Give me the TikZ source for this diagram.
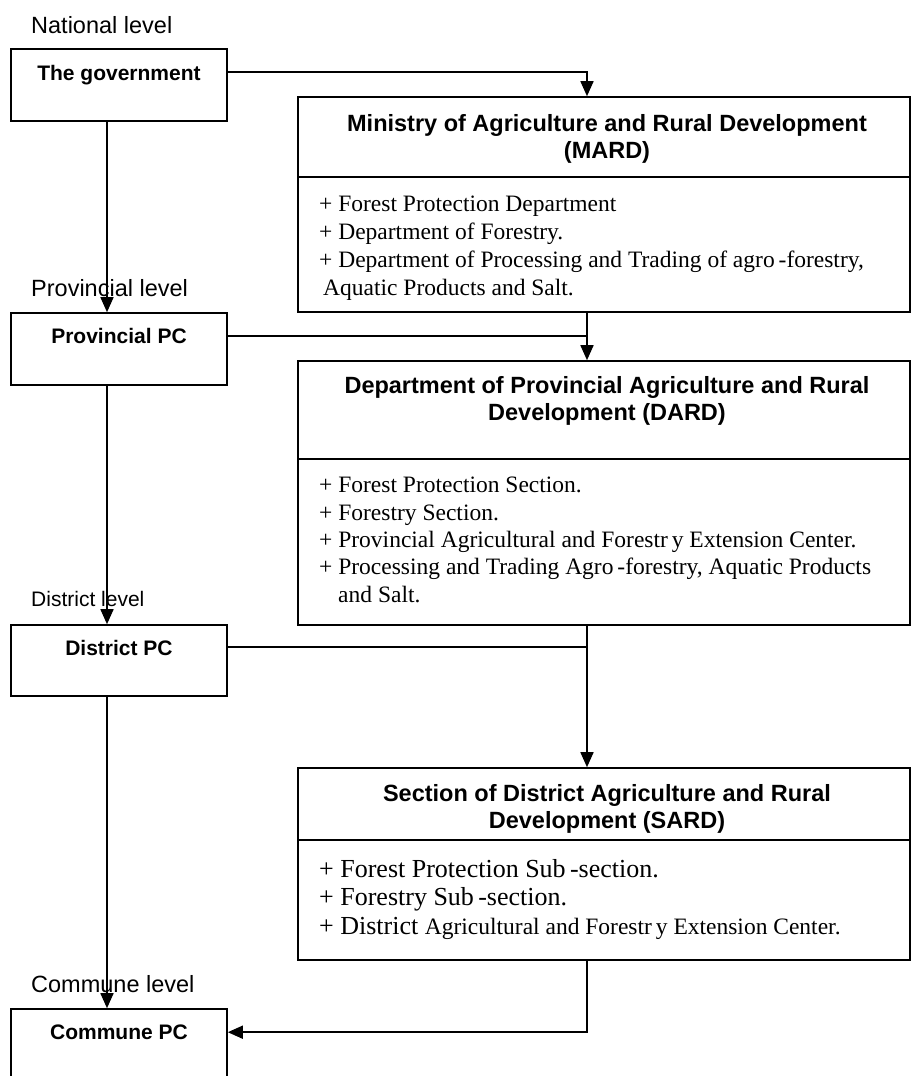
\documentclass[tikz,border=0pt]{standalone}
\usepackage{fontspec}
\setmainfont{Liberation Serif}
\setsansfont{Liberation Sans}
\usetikzlibrary{arrows.meta}

\begin{document}
\begin{tikzpicture}[x=1pt, y=-1pt,
        levellabel/.style={anchor=base west, inner sep=0pt, font=\sffamily\fontsize{23.5}{28}\selectfont},
        pcbox/.style={draw, line width=1.6pt, minimum width=216pt, minimum height=72pt, inner sep=0pt},
        pctext/.style={anchor=base, inner sep=0pt, font=\sffamily\bfseries\fontsize{21}{25}\selectfont},
        headbox/.style={draw, line width=1.6pt, minimum width=612pt, inner sep=0pt},
        headtext/.style={anchor=base, inner sep=0pt, align=center, font=\sffamily\bfseries\fontsize{23.5}{27}\selectfont},
        listtext/.style={anchor=base west, inner sep=0pt, align=left, font=\fontsize{23.5}{27.7}\selectfont},
        conn/.style={line width=1.6pt},
        arr/.style={conn, -{Triangle[length=15pt, width=13pt]}}]
        \useasboundingbox (0,0) rectangle (911,1076) ;
        % levels
        \node[levellabel] (national) at (31,33) {National level} ;
        \node[levellabel] (provincial) at (31,296) {Provincial level} ;
        \node[levellabel, font=\sffamily\fontsize{21}{25}\selectfont] (district) at (31,606) {District level} ;
        \node[levellabel] (commune) at (31,992) {Commune level} ;
        % people's committees
        \node[pcbox] (gov) at (119,85) {} ;
        \node[pctext] (govtext) at (119,80) {The government} ;
        \node[pcbox] (prov) at (119,349) {} ;
        \node[pctext] (provtext) at (119,343) {Provincial PC} ;
        \node[pcbox, minimum height=71pt] (dist) at (119,660.5) {} ;
        \node[pctext] (disttext) at (119,655) {District PC} ;
        \node[pcbox] (comm) at (119,1045) {} ;
        \node[pctext] (commtext) at (119,1039) {Commune PC} ;
        % MARD (base = last line)
        \node[headbox, minimum height=80pt] (mardhead) at (604,137) {} ;
        \node[headbox, minimum height=135pt] (mardbody) at (604,244.5) {} ;
        \node[headtext] (mardtitle) at (607,158) {Ministry of Agriculture and Rural Development\\(MARD)} ;
        \node[listtext] (mardlist) at (319,295) {+ Forest Protection Department\\+ Department of Forestry.\\+ Department of Processing and Trading of agro\,-forestry,\\\hspace*{4pt}Aquatic Products and Salt.} ;
        % DARD
        \node[headbox, minimum height=98pt] (dardhead) at (604,410) {} ;
        \node[headbox, minimum height=166pt] (dardbody) at (604,542) {} ;
        \node[headtext] (dardtitle) at (607,420) {Department of Provincial Agriculture and Rural\\Development (DARD)} ;
        \node[listtext, font=\fontsize{23.5}{27.3}\selectfont] (dardlist) at (319,602) {+ Forest Protection Section.\\+ Forestry Section.\\+ Provincial Agricultural and Forestr\,y Extension Center.\\+ Processing and Trading Agro\,-forestry, Aquatic Products\\\hspace*{19pt}and Salt.} ;
        % SARD
        \node[headbox, minimum height=72pt] (sardhead) at (604,804) {} ;
        \node[headbox, minimum height=120pt] (sardbody) at (604,900) {} ;
        \node[headtext] (sardtitle) at (607,828) {Section of District Agriculture and Rural\\Development (SARD)} ;
        \node[listtext, font=\fontsize{26}{28.5}\selectfont] (sardlist) at (319,934) {+ Forest Protection Sub\,-section.\\+ Forestry Sub\,-section.\\+ District {\fontsize{23.5}{28.5}\selectfont Agricultural and Forestr\,y Extension Center.}} ;
        % connectors
        \draw[arr] ([yshift=-24pt]gov.north east) -| ([xshift=-17pt]mardhead.north) ;
        \draw[arr] ([xshift=-12pt]gov.south) -- ([xshift=-12pt]prov.north) ;
        \draw[arr] ([xshift=-17pt]mardbody.south) -- ([xshift=-17pt]dardhead.north) ;
        \draw[conn] ([yshift=-24pt]prov.north east) -| ([xshift=-17pt]mardbody.south) ;
        \draw[arr] ([xshift=-12pt]prov.south) -- ([xshift=-12pt]dist.north) ;
        \draw[arr] ([xshift=-17pt]dardbody.south) -- ([xshift=-17pt]sardhead.north) ;
        \draw[conn] ([yshift=-23pt]dist.north east) -| ([xshift=-17pt]dardbody.south) ;
        \draw[arr] ([xshift=-12pt]dist.south) -- ([xshift=-12pt]comm.north) ;
        \draw[arr] ([xshift=-17pt]sardbody.south) |- ([yshift=-24pt]comm.north east) ;
    \end{tikzpicture}
\end{document}
